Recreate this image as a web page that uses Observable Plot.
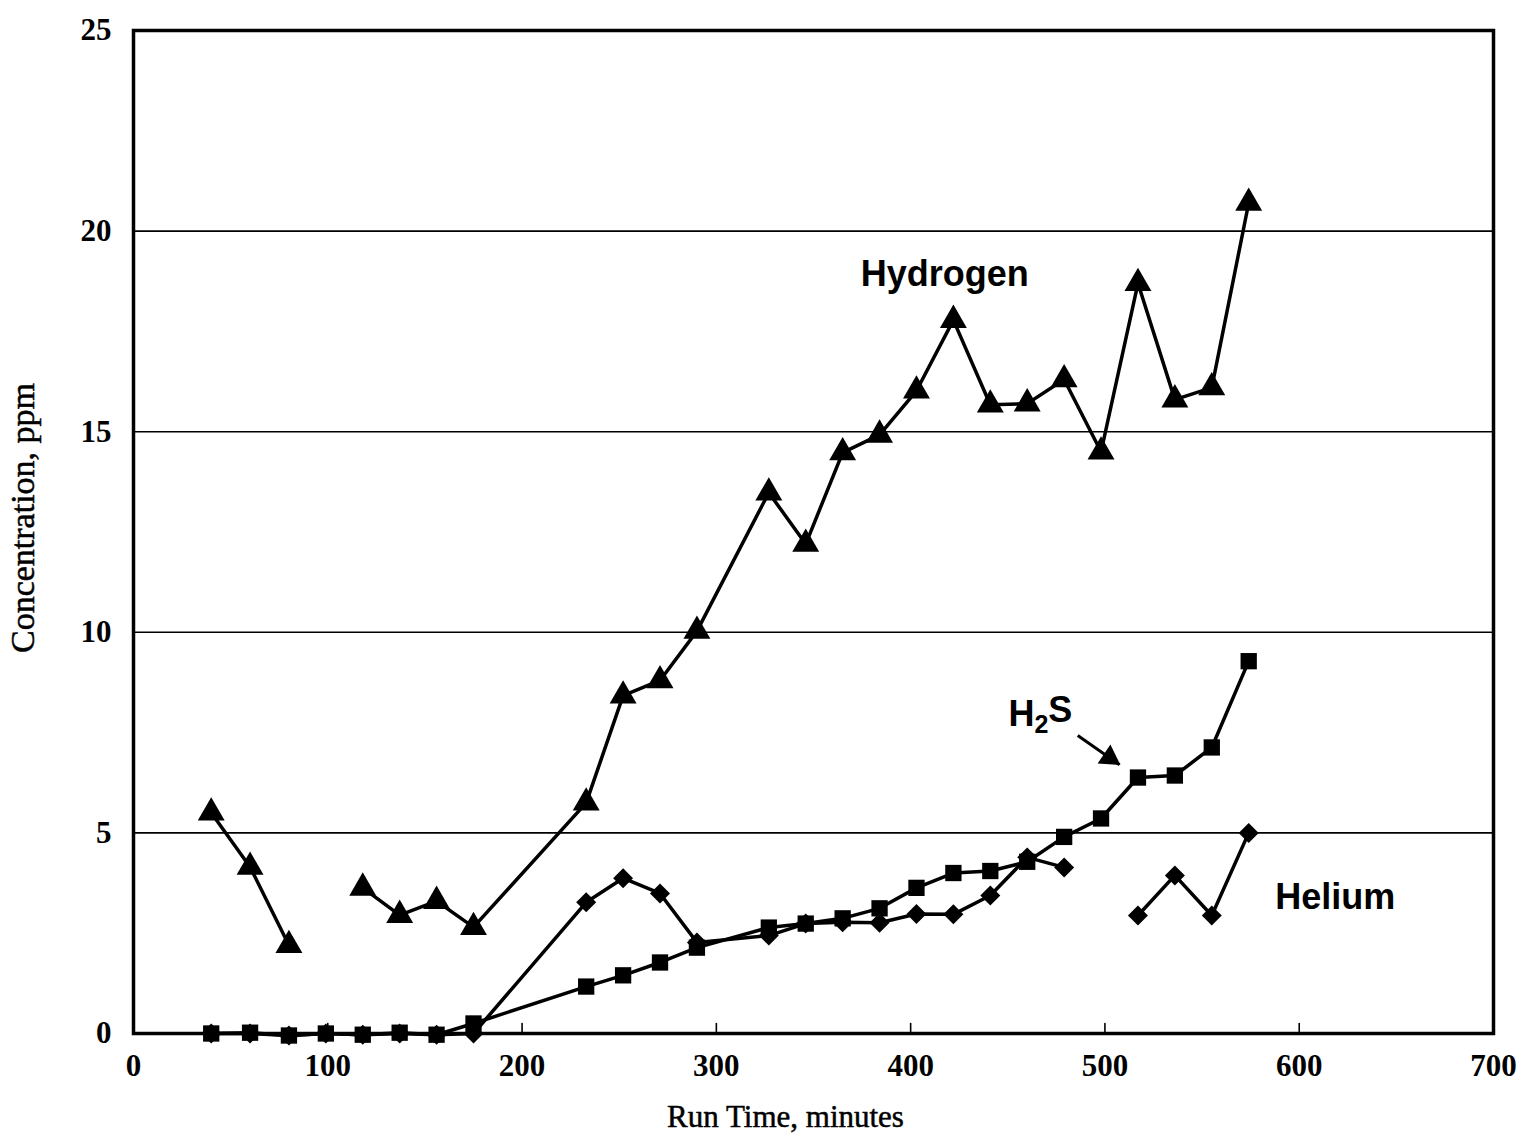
<!DOCTYPE html>
<html><head><meta charset="utf-8">
<script src="https://cdn.jsdelivr.net/npm/d3@7"></script>
<script src="https://cdn.jsdelivr.net/npm/@observablehq/plot@0.6"></script>
<style>body{margin:0;background:#fff}</style>
</head><body><div id="chart"></div>
<script>
// Run time, minutes (null value = gap in the trace)
const time = [40, 60, 80, 99, 118, 137, 156, 175, 233, 252, 271, 290, 327, 346, 365, 384, 403, 422, 441, 460, 479, 498, 517, 536, 555, 574];
// Concentrations, ppm
const hydrogen = [5.5, 4.15, 2.2, null, 3.63, 2.95, 3.3, 2.65, 5.75, 8.42, 8.8, 10.03, 13.48, 12.2, 14.48, 14.92, 16.02, 17.78, 15.67, 15.7, 16.3, 14.5, 18.7, 15.8, 16.1, 20.7];
const h2s      = [0.0, 0.02, -0.05, 0.0, -0.03, 0.02, -0.03, 0.25, 1.17, 1.45, 1.77, 2.14, 2.64, 2.74, 2.87, 3.12, 3.63, 4.0, 4.05, 4.28, 4.9, 5.36, 6.38, 6.43, 7.13, 9.28];
const helium   = [0.0, 0.0, -0.05, 0.0, -0.03, 0.0, -0.03, 0.0, 3.27, 3.87, 3.49, 2.27, 2.44, 2.74, 2.77, 2.76, 2.98, 2.97, 3.44, 4.39, 4.14, null, 2.94, 3.94, 2.94, 5.0];

const xTicks = [0, 100, 200, 300, 400, 500, 600, 700];
const xInnerTicks = [100, 200, 300, 400, 500, 600];
const yTicks = [0, 5, 10, 15, 20, 25];
const gridY = [5, 10, 15, 20];

// annotations
const labelText = ["Hydrogen", "H2S", "Helium"];
const labelX = [417.5, 466.8, 618.6];
const labelY = [18.93, 7.96, 3.39];
const arrowFrom = {x: 486, y: 7.43};
const arrowTo = {x: 507.5, y: 6.7};

const rows = (vals) => time.map((t, i) => ({t, v: vals[i]}));
const H = rows(hydrogen), S = rows(h2s), He = rows(helium);
const labels = labelText.map((s, i) => ({s, x: labelX[i], y: labelY[i]}));

const tickShape = {draw(context, l) { context.moveTo(0, 0); context.lineTo(0, -l); }};

const chart = Plot.plot({
  width: 1523, height: 1144,
  marginLeft: 133, marginRight: 30, marginTop: 30, marginBottom: 111,
  x: {domain: [0, 700]},
  y: {domain: [0, 25]},
  style: {fontFamily: "'Liberation Serif', 'Times New Roman', serif", background: "white", color: "black"},
  marks: [
    Plot.ruleY(gridY, {strokeWidth: 1.6}),
    Plot.frame({strokeWidth: 3.5}),
    Plot.vectorX(xInnerTicks, {x: d => d, frameAnchor: "bottom", length: 10, anchor: "start", shape: tickShape, strokeWidth: 1.6}),
    Plot.axisX({ticks: xTicks, tickSize: 0, tickPadding: 20, fontSize: 31, fontWeight: "bold", label: null}),
    Plot.axisY({ticks: yTicks, tickSize: 0, tickPadding: 22, fontSize: 31, fontWeight: "bold", label: null}),
    Plot.text(["Run Time, minutes"], {frameAnchor: "bottom", dx: -28, dy: 93, fontSize: 31, fill: "black", stroke: "black", strokeWidth: 0.5}),
    Plot.text(["Concentration, ppm"], {frameAnchor: "left", textAnchor: "middle", dx: -110, dy: -14, rotate: -90, fontSize: 34, fill: "black", stroke: "black", strokeWidth: 0.5}),
    Plot.line(He, {x: "t", y: "v", strokeWidth: 3.5}),
    Plot.line(S, {x: "t", y: "v", strokeWidth: 3.5}),
    Plot.line(H, {x: "t", y: "v", strokeWidth: 3.5}),
    Plot.dot(He, {x: "t", y: "v", symbol: "diamond2", r: 9, fill: "black", stroke: "none"}),
    Plot.dot(S, {x: "t", y: "v", symbol: "square", r: 9.2, fill: "black", stroke: "none"}),
    Plot.dot(H, {x: "t", y: "v", symbol: "triangle", r: 10, fill: "black", stroke: "none"}),
    Plot.text(labels, {x: "x", y: "y", text: "s", fontSize: 36, fontWeight: "bold",
      fontFamily: "'Liberation Sans', Arial, sans-serif"}),
    Plot.link([arrowFrom], {x1: "x", y1: "y", x2: () => arrowTo.x, y2: () => arrowTo.y, strokeWidth: 3}),
    Plot.dot([arrowTo], {x: "x", y: "y", symbol: "triangle", r: 8.5, fill: "black", stroke: "none", rotate: 124, dx: -10, dy: -7})
  ]
});

// subscript the 2 in H2S
d3.select(chart).selectAll("text").filter(function() { return this.textContent === "H2S"; })
  .each(function() {
    const t = d3.select(this);
    t.text(null);
    t.append("tspan").text("H");
    t.append("tspan").attr("dy", "0.3em").attr("font-size", 25).text("2");
    t.append("tspan").attr("dy", "-0.3em").text("S");
  });

document.getElementById("chart").append(chart);
</script>
</body></html>
